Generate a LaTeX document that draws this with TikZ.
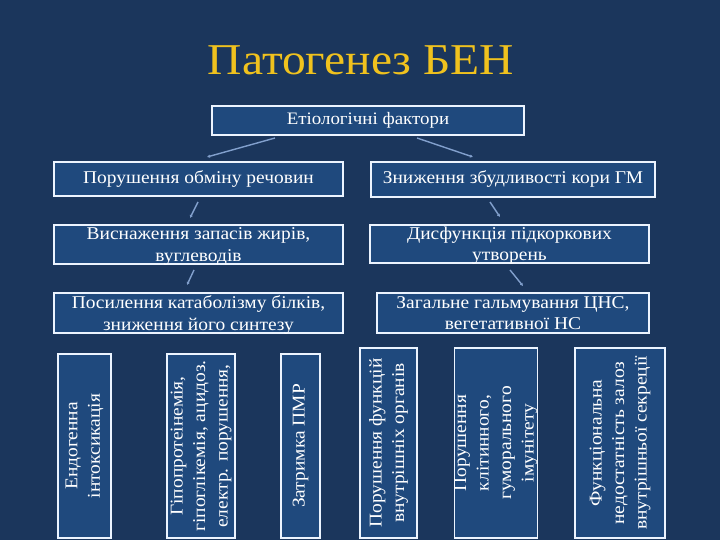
\documentclass[tikz,border=0pt]{standalone}
\usepackage{fontspec}
\setmainfont[FakeStretch=1.08]{Liberation Serif}
\usetikzlibrary{arrows.meta}
\definecolor{bgc}{RGB}{27,54,92}
\definecolor{boxfill}{RGB}{31,73,125}
\definecolor{boxline}{RGB}{236,244,255}
\definecolor{titlec}{RGB}{240,194,30}
\definecolor{connc}{RGB}{130,160,205}
\newcommand{\lastln}[1]{\raisebox{0pt}[\height][0pt]{#1}}
\tikzset{
  box/.style={draw=boxline, line width=1.8pt, fill=boxfill, inner sep=0pt, outer sep=0pt,
    text=white, align=center, font=\fontsize{18}{21.5}\selectfont},
  vbox/.style={box, rotate=90, font=\fontsize{18}{22.5}\selectfont},
  conn/.style={draw=connc, line width=1.4pt, -{Latex[length=3pt,width=3.5pt]}},
}
\begin{document}
\begin{tikzpicture}[x=1pt,y=-1pt]
\fill[bgc] (0,0) rectangle (720,540);
\useasboundingbox (0,0) rectangle (720,540);
\node[anchor=base, text=titlec, font=\fontsize{44}{50}\selectfont] (title) at (361,75) {Патогенез БЕН};
\node[box, minimum width=312pt, minimum height=29pt, font=\fontsize{17.5}{20}\selectfont] (etio) at (368,120.5) {Етіологічні фактори};
\node[box, minimum width=289pt, minimum height=34pt] (r1l) at (198.5,179) {Порушення обміну речовин};
\node[box, minimum width=284pt, minimum height=35pt] (r1r) at (513,179.5) {Зниження збудливості кори ГМ};
\node[box, minimum width=289pt, minimum height=39pt] (r2l) at (198.5,244.5) {Виснаження запасів жирів,\\\lastln{вуглеводів}};
\node[box, minimum width=279pt, minimum height=38pt] (r2r) at (509.5,244) {Дисфункція підкоркових\\\lastln{утворень}};
\node[box, minimum width=289pt, minimum height=40pt] (r3l) at (198.5,313) {Посилення катаболізму білків,\\\lastln{зниження його синтезу}};
\node[box, minimum width=272pt, minimum height=40pt] (r3r) at (513,313) {Загальне гальмування ЦНС,\\\lastln{вегетативної НС}};
\node[vbox, minimum width=184pt, minimum height=53pt] (v1) at (84.5,446) {Ендогенна\\інтоксикація};
\node[vbox, minimum width=184pt, minimum height=68pt] (v2) at (201,446) {Гіпопротеінемія,\\гіпоглікемія, ацидоз.\\електр. порушення,};
\node[vbox, minimum width=184pt, minimum height=39pt] (v3) at (300.5,446) {Затримка ПМР};
\node[vbox, minimum width=190pt, minimum height=57pt] (v4) at (388.5,443) {Порушення функцій\\внутрішніх органів};
\node[vbox, minimum width=190pt, minimum height=80pt] (v5) at (496,443) {Порушення\\клітинного,\\гуморального\\імунітету};
\node[vbox, minimum width=190pt, minimum height=90pt] (v6) at (620,443) {Функціональна\\недостатність залоз\\внутрішньої секреції};
\coordinate (c1a) at (275,138); \coordinate (c1b) at (207,157);
\coordinate (c2a) at (417,138); \coordinate (c2b) at (473,157);
\coordinate (c3a) at (198,202); \coordinate (c3b) at (190,218);
\coordinate (c4a) at (490,202); \coordinate (c4b) at (500,217);
\coordinate (c5a) at (194,270); \coordinate (c5b) at (187,285);
\coordinate (c6a) at (510,270); \coordinate (c6b) at (523,286);
\draw[conn] (c1a) -- (c1b);
\draw[conn] (c2a) -- (c2b);
\draw[conn] (c3a) -- (c3b);
\draw[conn] (c4a) -- (c4b);
\draw[conn] (c5a) -- (c5b);
\draw[conn] (c6a) -- (c6b);
\end{tikzpicture}
\end{document}
